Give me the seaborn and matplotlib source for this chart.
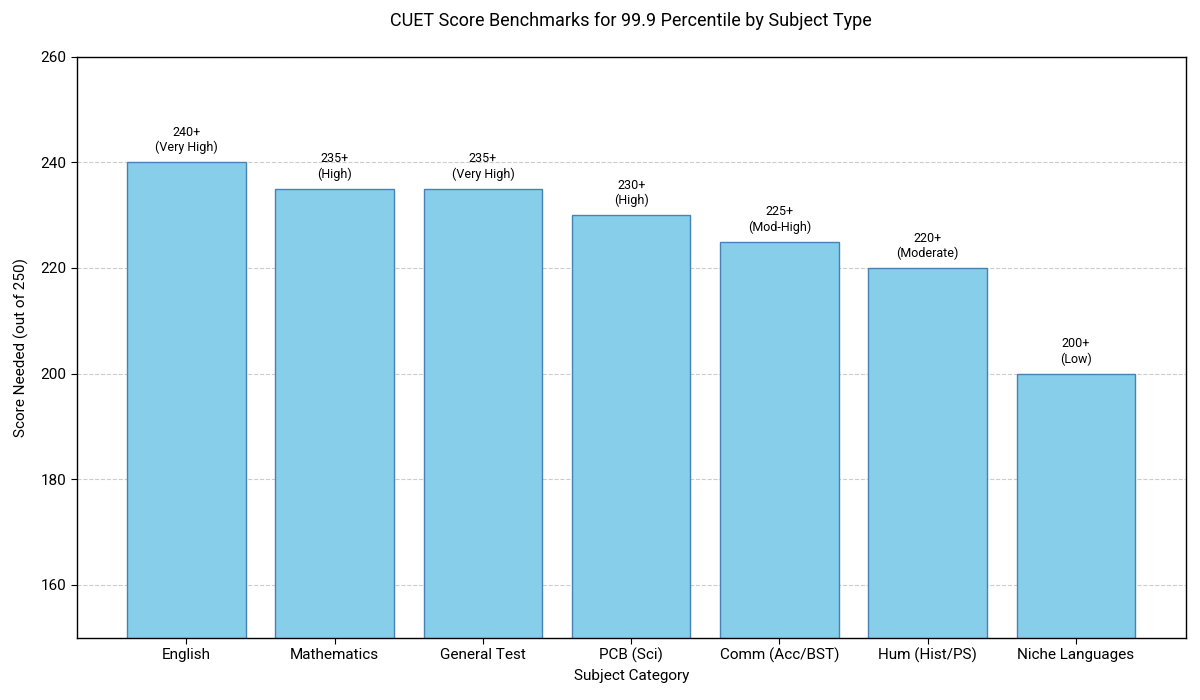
import pandas as pd
import seaborn as sns
import matplotlib.pyplot as plt

subjects = ["English", "Mathematics", "General Test", "PCB (Sci)",
            "Comm (Acc/BST)", "Hum (Hist/PS)", "Niche Languages"]
scores = [240, 235, 235, 230, 225, 220, 200]
levels = ["Very High", "High", "Very High", "High", "Mod-High", "Moderate", "Low"]

df = pd.DataFrame({"subject": subjects, "score": scores, "level": levels})

sns.set_style("white")
plt.rcParams['font.family'] = ['Roboto', 'DejaVu Sans']
plt.rcParams['text.color'] = 'black'
plt.rcParams['axes.labelcolor'] = 'black'
plt.rcParams['xtick.color'] = 'black'
plt.rcParams['ytick.color'] = 'black'

fig, ax = plt.subplots(figsize=(12, 7), dpi=100)
sns.barplot(data=df, x="subject", y="score", color="skyblue", saturation=1,
            edgecolor="steelblue", linewidth=1, width=0.8, ax=ax)

for i, row in df.iterrows():
    ax.text(i, row.score + 1.5, f"{row.score}+\n({row.level})",
            ha="center", va="bottom", fontsize=9)

ax.set_ylim(150, 260)
ax.set_xlim(-0.74, 6.74)
ax.yaxis.grid(True, linestyle="--", color="#cccccc", linewidth=0.8)
ax.set_axisbelow(True)
for s in ax.spines.values():
    s.set_color("black")
    s.set_linewidth(1)
ax.tick_params(axis="both", labelsize=11, length=4, color="black", left=True, bottom=True)

ax.set_title("CUET Score Benchmarks for 99.9 Percentile by Subject Type", fontsize=13, pad=22)
ax.set_xlabel("Subject Category", fontsize=11)
ax.set_ylabel("Score Needed (out of 250)", fontsize=11, labelpad=8)

plt.subplots_adjust(left=0.064, right=0.988, top=0.919, bottom=0.089)
plt.savefig("out.png", dpi=100)
